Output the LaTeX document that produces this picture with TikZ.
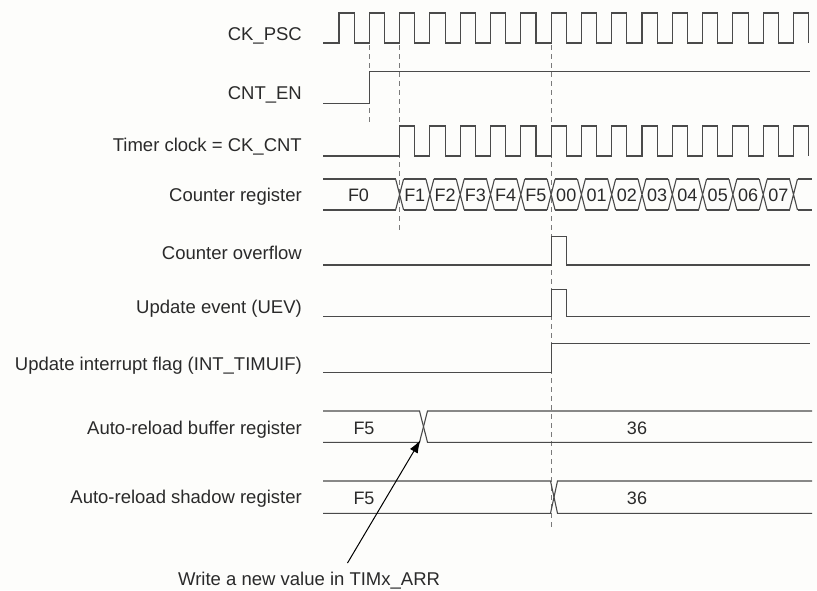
\documentclass[tikz,border=0pt]{standalone}
\usepackage{fontspec}
\setmainfont{Liberation Sans}
\usetikzlibrary{arrows.meta}
\definecolor{wavecol}{HTML}{4A4A4A}
\definecolor{txtcol}{HTML}{2A2A2A}
\definecolor{bgcol}{HTML}{FDFDFB}
\definecolor{dashcol}{HTML}{7A7A7A}
\begin{document}
\begin{tikzpicture}[x=1pt,y=-1pt,
  wave/.style={draw=wavecol,line width=1.1pt,line join=miter},
  guide/.style={draw=dashcol,line width=0.9pt,dash pattern=on 5pt off 4pt},
  lbl/.style={anchor=base east,text=txtcol,inner sep=0pt,font=\fontsize{18.5}{22}\selectfont},
  val/.style={anchor=base,text=txtcol,inner sep=0pt,font=\fontsize{18}{22}\selectfont},
  pointer/.style={draw=black,line width=1pt,-{Latex[length=13pt,width=9pt]}}]
\useasboundingbox (0,0) rectangle (817,590);
\fill[bgcol] (0,0) rectangle (817,590);

% labels
\node[lbl] (lpsc) at (302,40.7) {CK\_PSC};
\node[lbl] (len) at (302,99.3) {CNT\_EN};
\node[lbl] (lclk) at (302,151.7) {Timer clock = CK\_CNT};
\node[lbl] (lcnt) at (302,201.7) {Counter register};
\node[lbl] (lovf) at (302,259.3) {Counter overflow};
\node[lbl] (luev) at (302,313.3) {Update event (UEV)};
\node[lbl] (lflag) at (302,370.5) {Update interrupt flag (INT\_TIMUIF)};
\node[lbl] (lbuf) at (302,434) {Auto-reload buffer register};
\node[lbl] (lshd) at (302,503.3) {Auto-reload shadow register};

% guides
\draw[guide] (369.3,45) -- (369.3,125);
\draw[guide] (399.6,45) -- (399.6,233);
\draw[guide] (551.1,45) -- (551.1,528);

% CK_PSC
\draw[wave] (323,43) \foreach \k in {0,...,15}{ -- ({339+30.3*\k},43) -- ({339+30.3*\k},13) -- ({354.15+30.3*\k},13) -- ({354.15+30.3*\k},43) };
% CNT_EN
\draw[wave] (323,103.3) -- (369.3,103.3) -- (369.3,71.7) -- (810,71.7);
% Timer clock
\draw[wave] (323,156) \foreach \k in {2,...,15}{ -- ({339+30.3*\k},156) -- ({339+30.3*\k},126) -- ({354.15+30.3*\k},126) -- ({354.15+30.3*\k},156) };

% Counter register
\draw[wave] (323,179) -- (395.6,179) (323,210) -- (395.6,210);
\foreach \k in {2,...,15} {
  \pgfmathsetmacro\c{339+30.3*\k}
  \draw[wave] (\c-4,179) -- (\c+4,210) (\c-4,210) -- (\c+4,179);
}
\foreach \k in {2,...,14} {
  \pgfmathsetmacro\a{339+30.3*\k+4}
  \pgfmathsetmacro\b{339+30.3*(\k+1)-4}
  \draw[wave] (\a,179) -- (\b,179) (\a,210) -- (\b,210);
}
\draw[wave] (797.5,179) -- (812,179) (797.5,210) -- (812,210);
\node[val] (cnt1) at (358.5,201.7) {F0};
\foreach \k/\v in {2/F1,3/F2,4/F3,5/F4,6/F5,7/00,8/01,9/02,10/03,11/04,12/05,13/06,14/07} {
  \pgfmathsetmacro\cx{339+30.3*\k+15.15}
  \node[val] (cnt\k) at (\cx,201.7) {\v};
}

% Counter overflow
\draw[wave] (323,265) -- (551.1,265) -- (551.1,236.7) -- (566.25,236.7) -- (566.25,265) -- (810,265);
% Update event
\draw[wave] (323,316.7) -- (551.1,316.7) -- (551.1,289.3) -- (566.25,289.3) -- (566.25,316.7) -- (810,316.7);
% Update interrupt flag
\draw[wave] (323,372.7) -- (551.1,372.7) -- (551.1,343.3) -- (810,343.3);

% Auto-reload buffer register
\draw[wave] (323,411) -- (419.5,411) -- (427.5,442.3) -- (812,442.3);
\draw[wave] (323,442.3) -- (419.5,442.3) -- (427.5,411) -- (812,411);
\node[val] (bufold) at (364,434.5) {F5};
\node[val] (bufnew) at (637,434.5) {36};

% Auto-reload shadow register
\draw[wave] (323,481) -- (550.5,481) -- (557.5,513.3) -- (812,513.3);
\draw[wave] (323,513.3) -- (550.5,513.3) -- (557.5,481) -- (812,481);
\node[val] (shdold) at (364,504.5) {F5};
\node[val] (shdnew) at (637,504.5) {36};

% annotation
\node[anchor=base west,text=txtcol,inner sep=0pt,font=\fontsize{18.5}{22}\selectfont] (write) at (178,585) {Write a new value in TIMx\_ARR};
\coordinate (wtail) at (347.5,563);
\coordinate (wtip) at (420.5,440);
\draw[pointer] (wtail) -- (wtip);
\end{tikzpicture}
\end{document}
